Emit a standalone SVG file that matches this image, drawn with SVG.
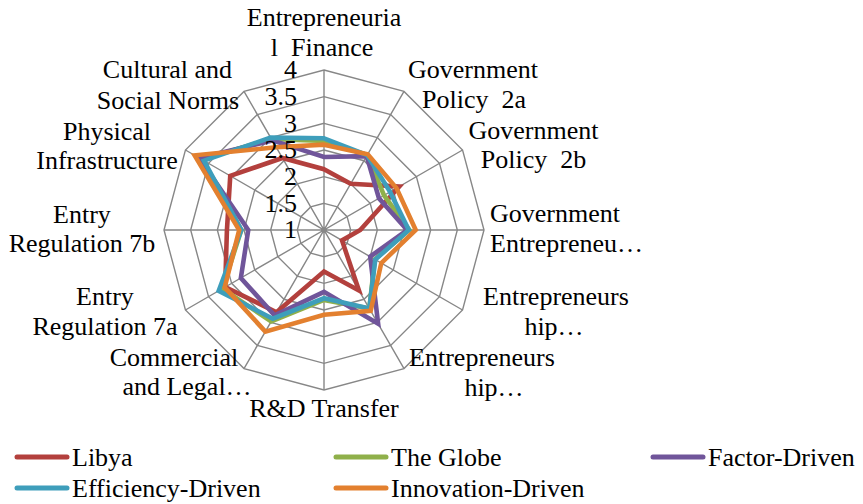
<svg xmlns="http://www.w3.org/2000/svg" width="863" height="504" viewBox="0 0 863 504">
<style>
text{font-family:"Liberation Serif","Times New Roman",serif;font-size:26px;fill:#000;white-space:pre}
.grid{fill:none;stroke:#878787;stroke-width:1.4}
.s{fill:none;stroke-width:4.6;stroke-linejoin:miter;stroke-miterlimit:4}
.leg{stroke-width:5;stroke-linecap:round}
.mid{text-anchor:middle}
.end{text-anchor:end}
.libya{stroke:#B3403D}
.globe{stroke:#8FB04A}
.factor{stroke:#70559A}
.eff{stroke:#3E9EBB}
.innov{stroke:#E3802F}
</style>
<rect width="863" height="504" fill="#fff"/>
<g id="grid">
<polygon class="grid" points="324,70 404,91.44 462.56,150 484,230 462.56,310 404,368.56 324,390 244,368.56 185.44,310 164,230 185.44,150 244,91.44"/>
<polygon class="grid" points="324,96.67 390.67,114.53 439.47,163.33 457.33,230 439.47,296.67 390.67,345.47 324,363.33 257.33,345.47 208.53,296.67 190.67,230 208.53,163.33 257.33,114.53"/>
<polygon class="grid" points="324,123.33 377.33,137.62 416.38,176.67 430.67,230 416.38,283.33 377.33,322.38 324,336.67 270.67,322.38 231.62,283.33 217.33,230 231.62,176.67 270.67,137.62"/>
<polygon class="grid" points="324,150 364,160.72 393.28,190 404,230 393.28,270 364,299.28 324,310 284,299.28 254.72,270 244,230 254.72,190 284,160.72"/>
<polygon class="grid" points="324,176.67 350.67,183.81 370.19,203.33 377.33,230 370.19,256.67 350.67,276.19 324,283.33 297.33,276.19 277.81,256.67 270.67,230 277.81,203.33 297.33,183.81"/>
<polygon class="grid" points="324,203.33 337.33,206.91 347.09,216.67 350.67,230 347.09,243.33 337.33,253.09 324,256.67 310.67,253.09 300.91,243.33 297.33,230 300.91,216.67 310.67,206.91"/>
<path class="grid" d="M324,70V390M404,91.44L244,368.56M462.56,150L185.44,310M484,230H164M462.56,310L185.44,150M404,368.56L244,91.44"/>
</g>
<g id="connectors">
<polygon id="series-libya" class="s libya" points="324,169.2 350.67,183.81 399.28,186.53 360.27,230 342.01,240.4 358.93,290.5 324,271.6 276.53,312.21 225.16,287.07 226.93,230 230.24,175.87 282.4,157.95"/>
<polygon id="series-globe" class="s globe" points="324,140.93 367.2,155.18 384.04,195.33 409.33,230 374.81,259.33 369.33,308.52 324,299.87 271.2,321.45 222.39,288.67 241.33,230 201.6,159.33 271.47,139.01"/>
<polygon id="series-factor" class="s factor" points="324,156.93 366.67,156.1 378.96,198.27 407.2,230 370.19,256.67 378.13,323.76 324,291.87 274.67,315.45 240.86,278 248.27,230 199.29,158 272.27,140.4"/>
<polygon id="series-eff" class="s eff" points="324,138.27 367.2,155.18 390.05,191.87 408.8,230 375.27,259.6 369.33,308.52 324,298.27 272.8,318.68 218.69,290.8 241.33,230 203.91,160.67 270.67,137.62"/>
<polygon id="series-innov" class="s innov" points="324,144.67 367.73,154.25 396.51,188.13 415.73,230 381.27,263.07 370.67,310.83 324,314.8 265.33,331.61 224.7,287.33 239.2,230 194.67,155.33 276.27,147.32"/>
</g>
<g id="ticks">
<text class="end" x="297" y="78.3">4</text>
<text class="end" x="297" y="105">3.5</text>
<text class="end" x="297" y="131.7">3</text>
<text class="end" x="297" y="158.3">2.5</text>
<text class="end" x="297" y="185">2</text>
<text class="end" x="297" y="211.7">1.5</text>
<text class="end" x="297" y="238.3">1</text>
</g>
<g id="label-finance"><text class="mid" x="324" y="26">Entrepreneuria</text><text class="mid" x="322" y="56">l  Finance</text></g>
<g id="label-gp2a"><text class="mid" x="473" y="78.3">Government</text><text class="mid" x="474" y="108.3">Policy  2a</text></g>
<g id="label-gp2b"><text class="mid" x="533.5" y="139.3">Government</text><text class="mid" x="533.5" y="168.3">Policy  2b</text></g>
<g id="label-gep"><text x="490" y="221.7">Government</text><text x="490" y="251.7">Entrepreneu…</text></g>
<g id="label-ent1"><text class="mid" x="556" y="305">Entrepreneurs</text><text class="mid" x="554" y="335">hip…</text></g>
<g id="label-ent2"><text class="mid" x="482" y="366">Entrepreneurs</text><text class="mid" x="494" y="396">hip…</text></g>
<g id="label-rd"><text class="mid" x="324" y="417">R&amp;D Transfer</text></g>
<g id="label-commercial"><text class="mid" x="174" y="366">Commercial</text><text class="mid" x="187" y="395">and Legal…</text></g>
<g id="label-er7a"><text class="mid" x="105" y="305">Entry</text><text class="mid" x="105" y="335">Regulation 7a</text></g>
<g id="label-er7b"><text class="mid" x="82" y="223.3">Entry</text><text class="mid" x="82" y="252.3">Regulation 7b</text></g>
<g id="label-physical"><text class="mid" x="107" y="140">Physical</text><text class="mid" x="107" y="169">Infrastructure</text></g>
<g id="label-cultural"><text class="mid" x="167.5" y="78.3">Cultural and</text><text class="mid" x="168" y="109.3">Social Norms</text></g>
<g id="legend">
<g id="legend-libya"><line class="leg libya" x1="17" y1="457" x2="67" y2="457"/><text x="72" y="466">Libya</text></g>
<g id="legend-globe"><line class="leg globe" x1="336" y1="457" x2="386" y2="457"/><text x="391" y="466">The Globe</text></g>
<g id="legend-factor"><line class="leg factor" x1="653" y1="457" x2="703" y2="457"/><text x="708" y="466">Factor-Driven</text></g>
<g id="legend-eff"><line class="leg eff" x1="17" y1="488" x2="67" y2="488"/><text x="72" y="497">Efficiency-Driven</text></g>
<g id="legend-innov"><line class="leg innov" x1="336" y1="488" x2="386" y2="488"/><text x="391" y="497">Innovation-Driven</text></g>
</g>
</svg>
